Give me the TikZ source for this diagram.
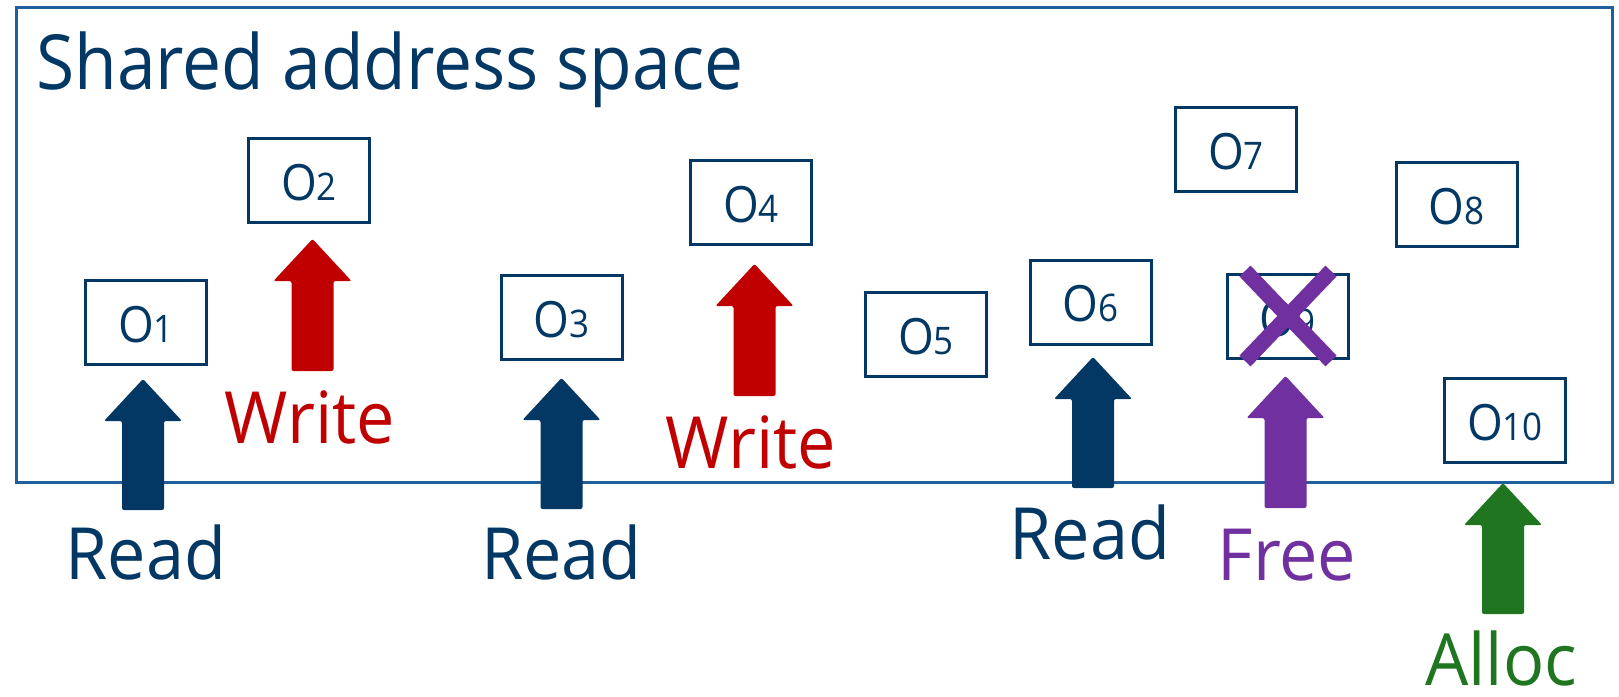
\documentclass[tikz,border=0pt]{standalone}
\usepackage{fontspec}
\setmainfont{Open Sans}[FakeStretch=0.92]
\definecolor{navy}{RGB}{3,56,101}
\definecolor{frameblue}{RGB}{31,95,158}
\definecolor{wred}{RGB}{192,0,0}
\definecolor{fpurple}{RGB}{112,48,160}
\definecolor{agreen}{RGB}{32,118,32}
\newcommand{\osub}[1]{{\fontsize{38}{40}\selectfont #1}}
\newcommand{\upblock}[4]{%
  \fill[#1, rounded corners=2pt] (#2-21,#3) -- (#2-21,#4+42) -- (#2-39,#4+42) -- (#2,#4) -- (#2+39,#4+42) -- (#2+21,#4+42) -- (#2+21,#3) -- cycle;}
\tikzset{
  obox/.style={draw=navy, line width=3pt, minimum width=121pt, minimum height=84pt,
    inner sep=0pt, text=navy, font=\fontsize{50}{52}\selectfont, text height=39pt, text depth=0pt},
  lbl/.style={anchor=base, inner sep=0pt, font=\fontsize{72}{76}\selectfont\addfontfeature{FakeStretch=0.95}},
}
\begin{document}
\begin{tikzpicture}[x=1pt,y=-1pt]
\useasboundingbox (0,0) rectangle (1619,696);
% frame
\draw[frameblue, line width=3pt] (16,7) rectangle (1612,482);
\node[anchor=base west, inner sep=0pt, text=navy, font=\fontsize{76}{80}\selectfont\addfontfeature{FakeStretch=0.915}] (title) at (36,89) {Shared address space};
% boxes
\node[obox] (o1) at (146,322.5) {O\osub{1}};
\node[obox] (o2) at (309,180.5) {O\osub{2}};
\node[obox] (o3) at (561.5,317.5) {O\osub{3}};
\node[obox] (o4) at (751,202.5) {O\osub{4}};
\node[obox] (o5) at (926,334.5) {O\osub{5}};
\node[obox] (o6) at (1090.5,302) {O\osub{6}};
\node[obox] (o7) at (1236,149.5) {O\osub{7}};
\node[obox] (o8) at (1456.5,204.5) {O\osub{8}};
\node[obox] (o9) at (1287.5,316.5) {O\osub{9}};
\node[obox] (o10) at (1505,420.5) {O\osub{10}};
% cross over O9
\draw[fpurple, line width=15.5pt] (1245,271) -- (1331,361);
\draw[fpurple, line width=15.5pt] (1331,271) -- (1245,361);
% arrows
\upblock{navy}{143}{510}{379}
\upblock{wred}{312.5}{371}{239}
\upblock{navy}{561.5}{509}{378}
\upblock{wred}{754.5}{396}{264}
\upblock{navy}{1093}{488}{357}
\upblock{fpurple}{1285.5}{508}{376}
\upblock{agreen}{1503}{614}{483}
% labels
\node[lbl, text=navy] (r1) at (146,579) {Read};
\node[lbl, text=wred] (w1) at (310,443) {Write};
\node[lbl, text=navy] (r2) at (561.5,579) {Read};
\node[lbl, text=wred] (w2) at (751,468) {Write};
\node[lbl, text=navy] (r3) at (1090,559) {Read};
\node[lbl, text=fpurple] (fr) at (1287,580) {Free};
\node[lbl, text=agreen] (al) at (1501,685) {Alloc};
\end{tikzpicture}
\end{document}
